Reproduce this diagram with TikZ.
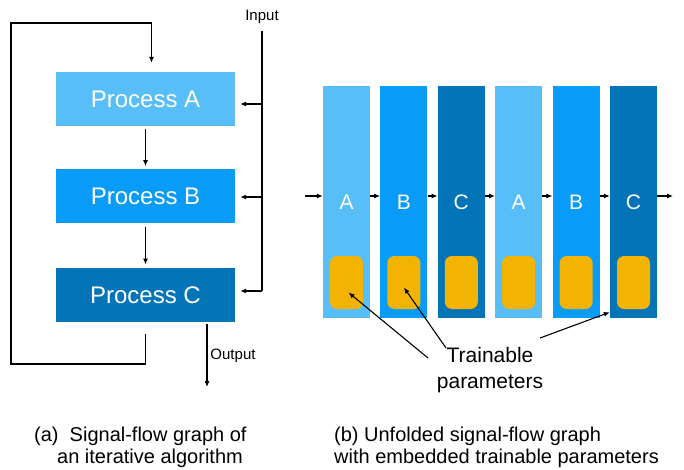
\documentclass[tikz,border=0pt]{standalone}
\usepackage{fontspec}
\setmainfont{Liberation Sans}
\usepackage{xcolor}
\usetikzlibrary{positioning,arrows.meta,calc}

\definecolor{lightblue}{RGB}{88,190,248}
\definecolor{midblue}{RGB}{8,156,248}
\definecolor{darkblue}{RGB}{4,116,184}
\definecolor{gold}{RGB}{242,180,0}

\begin{document}
\begin{tikzpicture}[
  x=1pt, y=-1pt,
  proc/.style={minimum width=179pt, minimum height=54pt, inner sep=0pt, text=white, font=\fontsize{24}{28}\selectfont},
  col/.style={minimum width=47pt, minimum height=232pt, inner sep=0pt, text=white, font=\fontsize{21}{25}\selectfont},
  param/.style={fill=gold, rounded corners=7pt, minimum width=33pt, minimum height=53pt, inner sep=0pt},
  lbl/.style={inner sep=0pt, font=\fontsize{15}{18}\selectfont},
  captext/.style={inner sep=0pt, anchor=west, font=\fontsize{20}{24}\selectfont},
  arr/.style={-{Latex[length=6pt,width=5pt]}, line width=1.1pt}
]
\useasboundingbox (0,0) rectangle (684,469);

% (a) iterative algorithm
\node[proc, fill=lightblue] (pa) at (145.5,99) {Process A};
\node[proc, fill=midblue, below=43pt of pa] (pb) {Process B};
\node[proc, fill=darkblue, below=44pt of pb] (pc) {Process C};

\draw[arr, shorten <=3pt, shorten >=3pt] (pa) -- (pb);
\draw[arr, shorten <=3pt, shorten >=3pt] (pb) -- (pc);

% feedback loop
\draw[arr] ([yshift=-12pt]pc.south) -- ++(0,30) -| (11,23) -| ([xshift=6pt,yshift=9pt]pa.north);

% input
\node[lbl] (inlbl) at (262,17) {Input};
\coordinate (ja) at (262,104);
\coordinate (jb) at (262,197);
\coordinate (jc) at (262,291);
\draw[line width=1.1pt] (inlbl.south) ++(0,7) -- (jc);
\draw[arr, shorten >=5pt] (ja) -- (ja -| pa.east);
\draw[arr, shorten >=5pt] (jb) -- (jb -| pb.east);
\draw[arr, shorten >=5pt] (jc) -- (jc -| pc.east);

% output
\coordinate (oa) at (207,324);
\draw[arr] (oa) -- ++(0,63);
\node[lbl] (outlbl) at (233,356) {Output};

% (b) unfolded graph
\node[col, fill=lightblue] (c1) at (346.5,202) {A};
\node[col, fill=midblue, right=10pt of c1] (c2) {B};
\node[col, fill=darkblue, right=10pt of c2] (c3) {C};
\node[col, fill=lightblue, right=10pt of c3] (c4) {A};
\node[col, fill=midblue, right=10pt of c4] (c5) {B};
\node[col, fill=darkblue, right=10pt of c5] (c6) {C};

\node[param, above=9pt of c1.south] (p1) {};
\node[param, above=9pt of c2.south] (p2) {};
\node[param, above=9pt of c3.south] (p3) {};
\node[param, above=9pt of c4.south] (p4) {};
\node[param, above=9pt of c5.south] (p5) {};
\node[param, above=9pt of c6.south] (p6) {};

\coordinate (sin) at (305,196);
\coordinate (sout) at (673,196);
\draw[arr] (sin) -- (sin -| c1.west);
\draw[arr] ([yshift=6pt]c1.east) -- ([yshift=6pt]c2.west);
\draw[arr] ([yshift=6pt]c2.east) -- ([yshift=6pt]c3.west);
\draw[arr] ([yshift=6pt]c3.east) -- ([yshift=6pt]c4.west);
\draw[arr] ([yshift=6pt]c4.east) -- ([yshift=6pt]c5.west);
\draw[arr] ([yshift=6pt]c5.east) -- ([yshift=6pt]c6.west);
\draw[arr] ([yshift=6pt]c6.east) -- (sout);

\node[align=center, font=\fontsize{21}{26}\selectfont] (tp) at (490,370) {Trainable\\parameters};
\draw[arr] ($(tp)+(-62,-12)$) -- ($(p1)+(2,10)$);
\draw[arr] ($(tp)+(-44,-22)$) -- ($(p2)+(0,5)$);
\draw[arr] ($(tp)+(50,-32)$) -- ([yshift=6pt]c6.south west);

% captions
\node[captext] (capa1) at (34,436) {(a)\ \ Signal-flow graph of};
\node[captext] (capa2) at (57,458) {an iterative algorithm};
\node[captext] (capb1) at (334,436) {(b) Unfolded signal-flow graph};
\node[captext] (capb2) at (334,458) {with embedded trainable parameters};
\end{tikzpicture}
\end{document}
